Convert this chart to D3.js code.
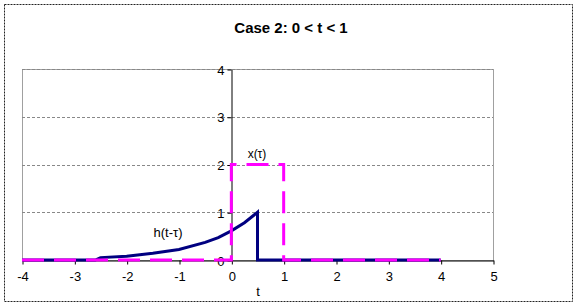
<!DOCTYPE html>
<html>
<head>
<meta charset="utf-8">
<script src="https://cdn.jsdelivr.net/npm/d3@7"></script>
<style>
  body { margin: 0; background: #fff; }
  svg text { font-family: Arial, "Liberation Sans", sans-serif; }
</style>
</head>
<body>
<div id="chart"></div>
<script>
// x(tau) rectangle pulse
const xTau = [-4, 0, 0, 1, 1, 4];
const xVals = [0, 0, 2, 2, 0, 0];

// h(t - tau) for t = 0.5
const hTau = [-4, -2.6, -2.5, -2, -1.5, -1, -0.5, -0.25, 0, 0.25, 0.5, 0.5, 4];
const hVals = [0, 0, 0.05, 0.08, 0.14, 0.22, 0.37, 0.47, 0.61, 0.78, 1, 0, 0];

const xTicks = [-4, -3, -2, -1, 0, 1, 2, 3, 4, 5];
const yTicks = [0, 1, 2, 3, 4];

const width = 577, height = 307;
const plot = { left: 22, right: 493, top: 69, bottom: 260 };

const svg = d3.select("#chart").append("svg")
  .attr("width", width)
  .attr("height", height);

// outer frame
svg.append("rect")
  .attr("x", 4.5).attr("y", 4.5)
  .attr("width", 568).attr("height", 297)
  .attr("fill", "#fff")
  .attr("stroke", "#222")
  .attr("stroke-dasharray", "2 1");

svg.append("text")
  .attr("x", 291).attr("y", 33)
  .attr("text-anchor", "middle")
  .attr("font-size", 15).attr("font-weight", "bold")
  .text("Case 2: 0 < t < 1");

const xScale = d3.scaleLinear().domain([-4, 5]).range([plot.left, plot.right]);
const yScale = d3.scaleLinear().domain([0, 4]).range([plot.bottom, plot.top]);

// plot area border
svg.append("rect")
  .attr("x", plot.left + 0.5).attr("y", plot.top + 0.5)
  .attr("width", plot.right - plot.left).attr("height", plot.bottom - plot.top)
  .attr("fill", "none")
  .attr("stroke", "#a0a0a0");

// gridlines
svg.append("g")
  .selectAll("line")
  .data(yTicks.filter(d => d > 0))
  .enter()
  .append("line")
  .attr("x1", plot.left).attr("x2", plot.right)
  .attr("y1", d => Math.round(yScale(d)) + 0.5)
  .attr("y2", d => Math.round(yScale(d)) + 0.5)
  .attr("stroke", "#888")
  .attr("stroke-dasharray", "3 2");

const fmt = d => String(d);

// x axis at y = 0
const xAxis = svg.append("g")
  .attr("transform", `translate(0.5,${Math.round(yScale(0)) + 0.5})`)
  .call(d3.axisBottom(xScale).tickValues(xTicks).tickSize(4).tickSizeOuter(0).tickFormat(fmt));
xAxis.select(".domain").attr("stroke", "#000");
xAxis.selectAll("text").attr("font-size", 13).attr("fill", "#000").attr("dy", "1.05em");

// y axis at x = 0
const yAxis = svg.append("g")
  .attr("transform", `translate(${Math.round(xScale(0)) + 0.5},0.5)`)
  .call(d3.axisLeft(yScale).tickValues(yTicks).tickSize(4).tickSizeOuter(0).tickFormat(fmt));
yAxis.select(".domain").attr("stroke", "#000");
yAxis.selectAll("text").attr("font-size", 13).attr("fill", "#000").attr("dy", "0.35em");

svg.append("text")
  .attr("x", 258).attr("y", 296)
  .attr("text-anchor", "middle")
  .attr("font-size", 13)
  .text("t");

const line = d3.line()
  .x(d => xScale(d[0]))
  .y(d => yScale(d[1]));

svg.append("path")
  .datum(hTau.map((t, i) => [t, hVals[i]]))
  .attr("d", line)
  .attr("fill", "none")
  .attr("stroke", "#000080")
  .attr("stroke-width", 3);

svg.append("path")
  .datum(xTau.map((t, i) => [t, xVals[i]]))
  .attr("d", line)
  .attr("fill", "none")
  .attr("stroke", "#ff00ff")
  .attr("stroke-width", 3)
  .attr("stroke-dasharray", "22 10");

svg.append("text")
  .attr("x", 257).attr("y", 158)
  .attr("text-anchor", "middle")
  .attr("font-size", 12)
  .attr("fill", "#000")
  .text("x(τ)");

svg.append("text")
  .attr("x", 168).attr("y", 237)
  .attr("text-anchor", "middle")
  .attr("font-size", 13)
  .attr("fill", "#000")
  .text("h(t-τ)");
</script>
</body>
</html>
